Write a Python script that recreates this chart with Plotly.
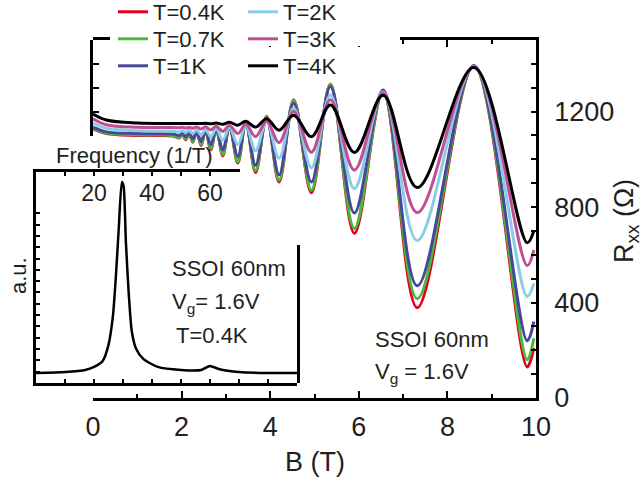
import plotly.graph_objects as go

# ---------------- data ----------------
B = [0.00, 0.30, 1.00, 1.80, 1.95, 2.02, 2.09, 2.17, 2.25, 2.34, 2.44, 2.54,
     2.66, 2.78, 2.93, 3.08, 3.27, 3.45, 3.67, 3.92, 4.20, 4.53, 4.93, 5.36,
     5.90, 6.55, 7.32, 8.60, 9.80, 9.95]
R_04K = [1128, 1108, 1100, 1098, 1090, 1106, 1082, 1110, 1072, 1115, 1058, 1122,
         1040, 1130, 1015, 1140, 985, 1155, 945, 1180, 905, 1250, 860, 1315,
         690, 1285, 378, 1392, 130, 210]
R_07K = [1130, 1110, 1103, 1100, 1092, 1107, 1085, 1110, 1075, 1114, 1062, 1120,
         1045, 1128, 1020, 1138, 990, 1153, 952, 1178, 912, 1248, 870, 1315,
         710, 1285, 416, 1392, 160, 250]
R_1K = [1135, 1115, 1108, 1106, 1100, 1110, 1094, 1112, 1086, 1115, 1075, 1120,
        1060, 1126, 1040, 1135, 1012, 1148, 975, 1170, 935, 1235, 905, 1305,
        775, 1290, 470, 1393, 240, 320]
R_2K = [1152, 1130, 1120, 1118, 1115, 1120, 1112, 1121, 1108, 1123, 1102, 1125,
        1094, 1129, 1080, 1134, 1062, 1143, 1035, 1160, 1005, 1215, 965, 1270,
        878, 1282, 660, 1390, 425, 480]
R_3K = [1170, 1145, 1134, 1133, 1132, 1134, 1131, 1134, 1130, 1135, 1127, 1137,
        1123, 1139, 1117, 1142, 1108, 1147, 1095, 1160, 1070, 1200, 1030, 1250,
        955, 1278, 777, 1388, 555, 620]
R_4K = [1190, 1165, 1152, 1150, 1150, 1150, 1150, 1150, 1150, 1150, 1150, 1151,
        1149, 1152, 1147, 1155, 1143, 1160, 1135, 1170, 1122, 1185, 1095, 1228,
        1029, 1269, 882, 1385, 651, 700]

series_names = ["T=0.4K", "T=0.7K", "T=1K", "T=2K", "T=3K", "T=4K"]
series_vals = [R_04K, R_07K, R_1K, R_2K, R_3K, R_4K]
series_colors = ["#e2001a", "#4cb83a", "#47479b", "#88cde4", "#c34c97", "#000000"]

freq = [0, 10, 17, 20, 23, 25, 26.5, 27.5, 28.5, 29.6, 30.2, 31, 32, 33, 34.5,
        37, 42, 50, 57, 60, 63, 70, 80, 90]
fft_amp = [0.05, 0.055, 0.065, 0.08, 0.11, 0.19, 0.33, 0.52, 0.76, 1.0, 0.98,
           0.70, 0.44, 0.26, 0.17, 0.12, 0.08, 0.065, 0.065, 0.085, 0.07, 0.055,
           0.05, 0.05]

inset_tickvals = [10, 20, 30, 40, 50, 60, 70]
inset_ticktext = ["", "20", "", "40", "", "60", ""]

# ---------------- figure ----------------
W, H = 642, 485
def px(x):
    return x / W
def py(y):
    return 1 - y / H

FONT = "Liberation Sans, Arial, sans-serif"
TXT = "#231f20"

# legend slot for each series: (left x, row centre y) in pixels
legend_pos = [(113, 12), (113, 39), (113, 66), (243, 12), (243, 39), (243, 66)]
legend_ids = ["legend", "legend2", "legend3", "legend4", "legend5", "legend6"]

fig = go.Figure()

for i, (name, vals, col) in enumerate(zip(series_names, series_vals, series_colors)):
    fig.add_trace(go.Scatter(
        x=B, y=vals, mode="lines", name=name,
        line=dict(color=col, width=3, shape="spline", smoothing=1.0),
        xaxis="x", yaxis="y", legend=legend_ids[i],
    ))

# inset spectrum
fig.add_trace(go.Scatter(x=freq, y=fft_amp, mode="lines", showlegend=False,
                         line=dict(color="black", width=2.5, shape="spline", smoothing=0.6),
                         xaxis="x3", yaxis="y3"))

# helper traces so that the extra axes are drawn
fig.add_trace(go.Scatter(x=[None], y=[None], xaxis="x", yaxis="y2", showlegend=False, hoverinfo="skip"))
fig.add_trace(go.Scatter(x=[None], y=[None], xaxis="x4", yaxis="y3", showlegend=False, hoverinfo="skip"))
fig.add_trace(go.Scatter(x=[None], y=[None], xaxis="x3", yaxis="y4", showlegend=False, hoverinfo="skip"))

axis_common = dict(showline=True, linecolor="black", linewidth=2.5, showgrid=False,
                   zeroline=False, tickcolor="black", tickwidth=2, automargin=False)
big_tick = dict(family=FONT, size=27, color=TXT)
small_tick = dict(family=FONT, size=23, color=TXT)

layout_legends = {}
for lid, (lx, ly) in zip(legend_ids, legend_pos):
    layout_legends[lid] = dict(x=px(lx), y=py(ly), xanchor="left", yanchor="middle",
                               orientation="v", bgcolor="rgba(0,0,0,0)", borderwidth=0,
                               itemwidth=30, font=dict(family=FONT, size=22, color=TXT))

fig.update_layout(
    width=W, height=H,
    margin=dict(l=0, r=0, t=0, b=0, autoexpand=False),
    paper_bgcolor="white", plot_bgcolor="rgba(0,0,0,0)",
    font=dict(family=FONT, color=TXT),
    showlegend=True,
    xaxis=dict(**axis_common, domain=[px(93), px(536)], range=[0, 10], anchor="y",
               tickfont=big_tick,
               ticks="inside", tickmode="linear", tick0=0, dtick=2, ticklen=7,
               minor=dict(ticks="inside", dtick=1, ticklen=4, tickwidth=2, tickcolor="black"),
               mirror="ticks", ticklabelstandoff=3),
    yaxis=dict(**axis_common, domain=[py(398), py(40)], range=[0, 1500], anchor="x",
               tickfont=big_tick,
               side="right", ticks="inside", tickmode="linear", tick0=0, dtick=400,
               ticklen=5, minor=dict(ticks="inside", dtick=100, ticklen=5, tickwidth=2, tickcolor="black"),
               ticklabelstandoff=10),
    yaxis2=dict(**axis_common, domain=[py(136), py(40)], range=[1100, 1500], anchor="x",
                side="left", ticks="inside", tickmode="linear", tick0=1100, dtick=100,
                ticklen=6, showticklabels=False),
    xaxis3=dict(**axis_common, domain=[px(36), px(297)], range=[0, 90], anchor="y3",
                side="bottom", ticks="inside", tickmode="linear", tick0=0, dtick=10,
                ticklen=4, showticklabels=False),
    xaxis4=dict(**axis_common, domain=[px(36), px(240)], range=[0, 204 / 2.9], anchor="y3",
                side="top", ticks="inside", tickmode="array", tickfont=small_tick,
                tickvals=inset_tickvals, ticktext=inset_ticktext,
                ticklen=4, ticklabelposition="inside", ticklabelstandoff=11),
    yaxis3=dict(**axis_common, domain=[py(383), py(172)], range=[0, 1.05], anchor="x3",
                side="left", ticks="inside", tickmode="linear", tick0=0.0, dtick=0.0563,
                ticklen=4, showticklabels=False),
    yaxis4=dict(**axis_common, domain=[py(383), py(245)], range=[0, 1], anchor="x3",
                side="right", ticks="", showticklabels=False),
    **layout_legends,
)

# white gap in the top frame where the legend sits
fig.add_shape(type="rect", xref="paper", yref="paper",
              x0=px(110), x1=px(400), y0=py(46), y1=py(33),
              fillcolor="white", line=dict(width=0), layer="above")

title_font = dict(family=FONT, size=27, color=TXT)
fig.add_annotation(x=px(315), y=py(462), xref="paper", yref="paper", text="B (T)",
                   showarrow=False, xanchor="center", yanchor="middle", font=title_font)
fig.add_annotation(x=px(626), y=py(221), xref="paper", yref="paper", text="R<sub>xx</sub> (Ω)",
                   showarrow=False, xanchor="center", yanchor="middle", textangle=-90, font=title_font)

ann_font = dict(family=FONT, size=22, color=TXT)
fig.add_annotation(x=px(134), y=py(156), xref="paper", yref="paper", text="Frequency (1/T)",
                   showarrow=False, xanchor="center", yanchor="middle", font=ann_font)
fig.add_annotation(x=px(18), y=py(276), xref="paper", yref="paper", text="a.u.",
                   showarrow=False, xanchor="center", yanchor="middle", textangle=-90, font=ann_font)
fig.add_annotation(x=px(373), y=py(339), xref="paper", yref="paper", text="SSOI 60nm",
                   showarrow=False, xanchor="left", yanchor="middle", font=ann_font)
fig.add_annotation(x=px(373), y=py(373), xref="paper", yref="paper", text="V<sub>g</sub> = 1.6V",
                   showarrow=False, xanchor="left", yanchor="middle", font=ann_font)
fig.add_annotation(x=px(170), y=py(268), xref="paper", yref="paper", text="SSOI 60nm",
                   showarrow=False, xanchor="left", yanchor="middle", font=ann_font)
fig.add_annotation(x=px(170), y=py(303), xref="paper", yref="paper", text="V<sub>g</sub>= 1.6V",
                   showarrow=False, xanchor="left", yanchor="middle", font=ann_font)
fig.add_annotation(x=px(174), y=py(335), xref="paper", yref="paper", text="T=0.4K",
                   showarrow=False, xanchor="left", yanchor="middle", font=ann_font)

fig.write_html("out.html", config={"displayModeBar": False},
               post_script="document.body.style.margin='0px';")
